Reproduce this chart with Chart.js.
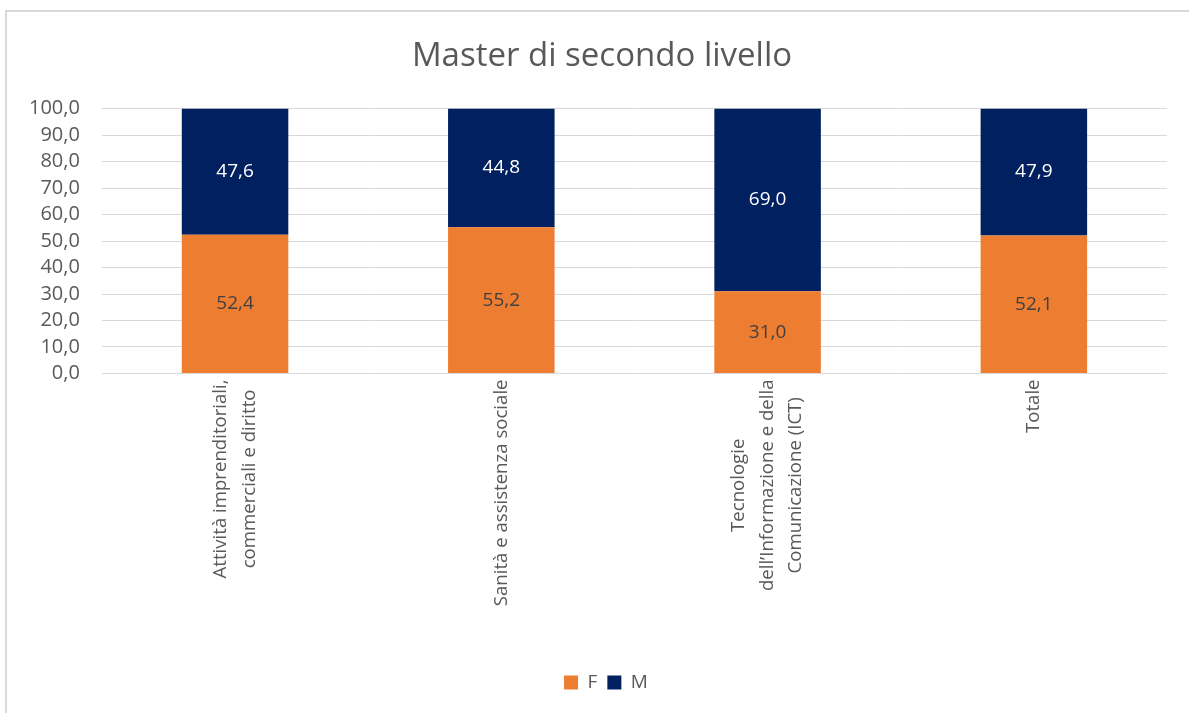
<!DOCTYPE html>
<html>
<head>
<meta charset="utf-8">
<script src="https://cdn.jsdelivr.net/npm/chart.js@4/dist/chart.umd.min.js"></script>
<style>
  html, body { margin: 0; padding: 0; background: #fff; overflow: hidden; }
  #frame { position: absolute; left: 5px; top: 10px; width: 1300px; height: 800px; border: 2px solid #d9d9d9; }
  #wrap { position: absolute; left: 0; top: 0; width: 1189px; height: 713px; }
</style>
</head>
<body>
<div id="frame"></div>
<div id="wrap"><canvas id="chart"></canvas></div>
<script>
// Data
const categories = [
  ['Attività imprenditoriali,', 'commerciali e diritto'],
  ['Sanità e assistenza sociale'],
  ['Tecnologie', 'dell’Informazione e della', 'Comunicazione (ICT)'],
  ['Totale']
]
const valuesF = [52.4, 55.2, 31.0, 52.1]
const valuesM = [47.6, 44.8, 69.0, 47.9]
const yTicks = [0, 10, 20, 30, 40, 50, 60, 70, 80, 90, 100]

const FONT = "'Open Sans', sans-serif"
const TEXT = '#595959'
const fmt = v => v.toFixed(1).replace('.', ',')

// draws the value inside each stacked segment
const valueLabels = {
  id: 'valueLabels',
  afterDatasetsDraw(chart) {
    const ctx = chart.ctx
    ctx.save()
    ctx.font = '19px ' + FONT
    ctx.textAlign = 'center'
    ctx.textBaseline = 'middle'
    chart.data.datasets.forEach((ds, i) => {
      const meta = chart.getDatasetMeta(i)
      meta.data.forEach((bar, j) => {
        const c = bar.getCenterPoint()
        ctx.fillStyle = ds.labelColor
        ctx.fillText(fmt(ds.data[j]), c.x, c.y)
      })
    })
    ctx.restore()
  }
}

// x labels: rotated block sits against the axis, lines centred within it (Excel style)
const xLabels = {
  id: 'xLabels',
  afterDraw(chart) {
    const ctx = chart.ctx
    const scale = chart.scales.x
    const lineH = 28.5
    ctx.save()
    ctx.font = '18.6px ' + FONT
    ctx.fillStyle = TEXT
    ctx.textAlign = 'center'
    ctx.textBaseline = 'middle'
    categories.forEach((lines, i) => {
      const x = scale.getPixelForTick(i)
      const maxW = Math.max(...lines.map(l => ctx.measureText(l).width))
      const cy = scale.top + 6 + maxW / 2
      ctx.save()
      ctx.translate(x, cy)
      ctx.rotate(-Math.PI / 2)
      lines.forEach((l, k) => {
        const off = (k - (lines.length - 1) / 2) * lineH
        ctx.fillText(l, 0, off)
      })
      ctx.restore()
    })
    ctx.restore()
  }
}

// title and legend are centred on the frame in the original, a bit right of the canvas centre
const nudgeBoxes = {
  id: 'nudgeBoxes',
  afterLayout(chart) {
    if (chart.titleBlock) { chart.titleBlock.left += 15; chart.titleBlock.right += 15 }
    if (chart.legend) { chart.legend.left += 19; chart.legend.right += 19 }
  }
}

new Chart(document.getElementById('chart'), {
  type: 'bar',
  data: {
    labels: categories,
    datasets: [
      {
        label: 'F',
        data: valuesF,
        backgroundColor: '#ed7d31',
        labelColor: '#404040',
        barPercentage: 0.4,
        categoryPercentage: 1.0
      },
      {
        label: 'M',
        data: valuesM,
        backgroundColor: '#002060',
        labelColor: '#ffffff',
        barPercentage: 0.4,
        categoryPercentage: 1.0
      }
    ]
  },
  options: {
    responsive: true,
    maintainAspectRatio: false,
    animation: false,
    layout: { padding: { left: 7, right: 22, top: 37, bottom: 11 } },
    plugins: {
      title: {
        display: true,
        text: 'Master di secondo livello',
        color: TEXT,
        font: { size: 33, family: FONT, weight: 'normal' },
        padding: { top: 0, bottom: 32 }
      },
      legend: {
        position: 'bottom',
        labels: {
          boxWidth: 14,
          boxHeight: 14,
          padding: 10,
          color: TEXT,
          font: { size: 19, family: FONT }
        }
      },
      tooltip: { enabled: false }
    },
    scales: {
      x: {
        stacked: true,
        grid: { display: false },
        border: { display: false },
        ticks: {
          autoSkip: false,
          minRotation: 90,
          maxRotation: 90,
          color: 'rgba(0,0,0,0)',
          padding: 31,
          font: { size: 18, family: FONT, lineHeight: 1.58 }
        }
      },
      y: {
        stacked: true,
        min: 0,
        max: 100,
        afterBuildTicks: axis => { axis.ticks = yTicks.map(v => ({ value: v })) },
        grid: { color: '#d9d9d9', lineWidth: 1, drawTicks: false },
        border: { display: false },
        ticks: {
          autoSkip: false,
          padding: 22,
          color: TEXT,
          font: { size: 20, family: FONT },
          callback: v => fmt(v)
        }
      }
    }
  },
  plugins: [valueLabels, xLabels, nudgeBoxes]
})
</script>
</body>
</html>
